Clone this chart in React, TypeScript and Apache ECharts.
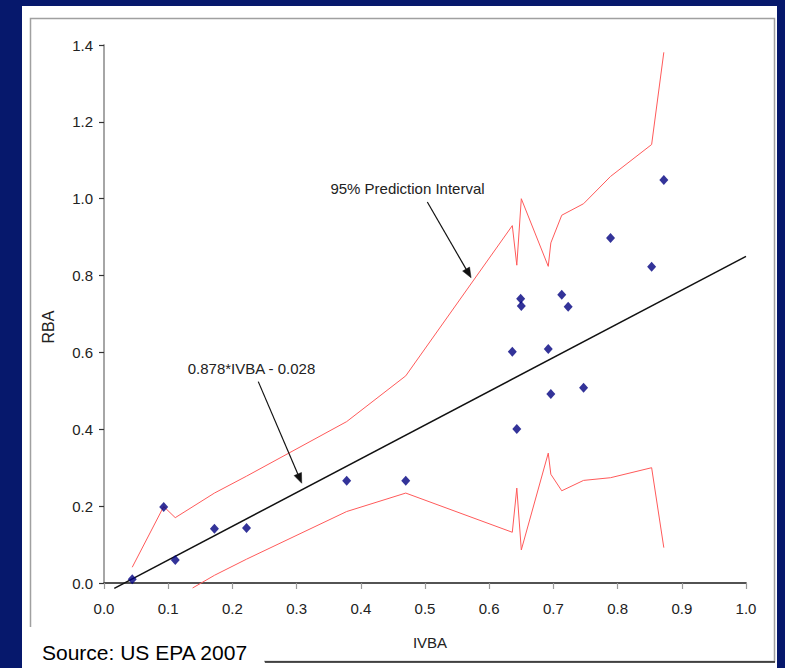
import React, { useEffect, useRef } from "react";
import * as echarts from "echarts";

// Observed data (IVBA vs RBA)
const ivba = [0.044, 0.093, 0.111, 0.172, 0.222, 0.378, 0.47, 0.636, 0.643, 0.649, 0.65, 0.692, 0.696, 0.713, 0.723, 0.747, 0.789, 0.853, 0.872];
const rba = [0.01, 0.198, 0.06, 0.141, 0.143, 0.266, 0.266, 0.602, 0.401, 0.74, 0.721, 0.609, 0.492, 0.75, 0.719, 0.508, 0.898, 0.823, 1.049];

// 95% prediction interval (upper / lower)
const upperX = [0.044, 0.093, 0.111, 0.172, 0.222, 0.378, 0.47, 0.636, 0.643, 0.65, 0.692, 0.696, 0.713, 0.747, 0.789, 0.853, 0.872];
const upperY = [0.041, 0.199, 0.17, 0.234, 0.278, 0.42, 0.539, 0.93, 0.827, 1.0, 0.824, 0.885, 0.957, 0.987, 1.058, 1.141, 1.381];
const lowerX = [0.138, 0.172, 0.222, 0.378, 0.47, 0.636, 0.643, 0.65, 0.692, 0.696, 0.713, 0.747, 0.789, 0.853, 0.872];
const lowerY = [-0.013, 0.02, 0.062, 0.186, 0.234, 0.132, 0.247, 0.086, 0.338, 0.283, 0.24, 0.267, 0.274, 0.3, 0.092];

// Regression line RBA = 0.878*IVBA - 0.028
const slope = 0.878;
const intercept = -0.028;
const fitX = [0.016, 1.0];

// Axis ticks
const xTicks = { min: 0, max: 1, interval: 0.1 };
const yTicks = { min: 0, max: 1.4, interval: 0.2 };

// Annotation arrows (data coordinates: start -> tip)
const arrowFit = [[0.2403, 0.524], [0.308, 0.2596]];
const arrowPI = [[0.5036, 0.9914], [0.5718, 0.7943]];

const labelFont = "Arial, 'Liberation Sans', sans-serif";

export default function App() {
  const ref = useRef<HTMLDivElement>(null);

  useEffect(() => {
    if (!ref.current) return;
    const chart = echarts.init(ref.current, undefined, { renderer: "svg" });

    const pairs = (xs: number[], ys: number[]) => xs.map((x, i) => [x, ys[i]]);
    const fitData = fitX.map((x) => [x, slope * x + intercept]);

    const option: any = {
      animation: false,
      backgroundColor: "#06186c",
      grid: { left: 104, top: 45, width: 642, height: 538, show: false },
      xAxis: [
        {
          type: "value",
          min: xTicks.min,
          max: xTicks.max,
          interval: xTicks.interval,
          axisLine: { show: true, lineStyle: { color: "#9a9a9a", width: 1.5 } },
          axisTick: { show: true, inside: false, length: 6, lineStyle: { color: "#9a9a9a", width: 1.2 } },
          axisLabel: {
            margin: 18,
            color: "#222",
            fontFamily: labelFont,
            fontSize: 15,
            formatter: (v: number) => v.toFixed(1),
          },
          splitLine: { show: false },
        },
        {
          type: "value",
          position: "top",
          min: xTicks.min,
          max: xTicks.max,
          axisLine: { show: true, lineStyle: { color: "#333", width: 1.5 } },
          axisTick: { show: false },
          axisLabel: { show: false },
          splitLine: { show: false },
        },
      ],
      yAxis: [
        {
          type: "value",
          min: yTicks.min,
          max: yTicks.max,
          interval: yTicks.interval,
          axisLine: { show: true, lineStyle: { color: "#a0a0a0", width: 1.5 } },
          axisTick: { show: true, inside: false, length: 5, lineStyle: { color: "#333", width: 1.2 } },
          axisLabel: {
            margin: 11,
            color: "#222",
            fontFamily: labelFont,
            fontSize: 15,
            formatter: (v: number) => v.toFixed(1),
          },
          splitLine: { show: false },
        },
        {
          type: "value",
          position: "right",
          min: yTicks.min,
          max: yTicks.max,
          axisLine: { show: true, lineStyle: { color: "#a0a0a0", width: 1.5 } },
          axisTick: { show: false },
          axisLabel: { show: false },
          splitLine: { show: false },
        },
      ],
      series: [
        {
          name: "Upper PI",
          type: "line",
          data: pairs(upperX, upperY),
          showSymbol: false,
          symbol: "none",
          clip: false,
          lineStyle: { color: "#ff5a5a", width: 1 },
          z: 3,
        },
        {
          name: "Lower PI",
          type: "line",
          data: pairs(lowerX, lowerY),
          showSymbol: false,
          symbol: "none",
          clip: false,
          lineStyle: { color: "#ff5a5a", width: 1 },
          z: 3,
        },
        {
          name: "Fit",
          type: "line",
          data: fitData,
          showSymbol: false,
          symbol: "none",
          clip: false,
          lineStyle: { color: "#111", width: 1.5 },
          z: 4,
        },
        {
          name: "Data",
          type: "scatter",
          data: pairs(ivba, rba),
          symbol: "diamond",
          symbolSize: [9, 10],
          itemStyle: { color: "#000080" },
          z: 5,
        },
      ],
    };

    chart.setOption(option);

    const textStyle = (text: string, font: string, align: string) => ({
      text,
      fill: "#222",
      font,
      align,
      verticalAlign: "middle",
      textAlign: align,
      textVerticalAlign: "middle",
    });

    const arrowGraphics = (arrow: number[][]) => {
      const p0 = chart.convertToPixel({ gridIndex: 0 }, arrow[0]) as number[];
      const p1 = chart.convertToPixel({ gridIndex: 0 }, arrow[1]) as number[];
      const dx = p1[0] - p0[0];
      const dy = p1[1] - p0[1];
      const len = Math.hypot(dx, dy);
      const ux = dx / len;
      const uy = dy / len;
      const headLen = 10;
      const headHalf = 4;
      const bx = p1[0] - ux * headLen;
      const by = p1[1] - uy * headLen;
      return [
        {
          type: "line",
          z: 20,
          silent: true,
          shape: { x1: p0[0], y1: p0[1], x2: bx, y2: by },
          style: { stroke: "#111", lineWidth: 1.2 },
        },
        {
          type: "polygon",
          z: 20,
          silent: true,
          shape: {
            points: [
              [p1[0], p1[1]],
              [bx - uy * headHalf, by + ux * headHalf],
              [bx + uy * headHalf, by - ux * headHalf],
            ],
          },
          style: { fill: "#111", stroke: "#111", lineWidth: 0.5 },
        },
      ];
    };

    chart.setOption({
      graphic: [
        {
          type: "rect",
          z: -10,
          silent: true,
          shape: { x: 22, y: 6, width: 755, height: 662 },
          style: { fill: "#ffffff" },
        },
        {
          type: "rect",
          z: -9,
          silent: true,
          shape: { x: 30.5, y: 18.5, width: 744, height: 643 },
          style: { fill: "none", stroke: "#a0a0a0", lineWidth: 1.5 },
        },
        {
          type: "line",
          z: 10,
          silent: true,
          shape: { x1: 265, y1: 662, x2: 775, y2: 662 },
          style: { stroke: "#222", lineWidth: 1.5 },
        },
        {
          type: "rect",
          z: 11,
          silent: true,
          shape: { x: 22, y: 627, width: 242, height: 41 },
          style: { fill: "#ffffff" },
        },
        {
          type: "text",
          z: 12,
          silent: true,
          x: 42,
          y: 652,
          style: { ...textStyle("Source: US EPA 2007", "21px Arial, 'Liberation Sans', sans-serif", "left"), fill: "#000" },
        },
        {
          type: "text",
          z: 12,
          silent: true,
          x: 430,
          y: 642,
          style: textStyle("IVBA", "15px Arial, 'Liberation Sans', sans-serif", "center"),
        },
        {
          type: "text",
          z: 12,
          silent: true,
          x: 48,
          y: 327,
          rotation: Math.PI / 2,
          style: textStyle("RBA", "16px Arial, 'Liberation Sans', sans-serif", "center"),
        },
        {
          type: "text",
          z: 12,
          silent: true,
          x: 251.5,
          y: 368,
          style: textStyle("0.878*IVBA - 0.028", "15px Arial, 'Liberation Sans', sans-serif", "center"),
        },
        {
          type: "text",
          z: 12,
          silent: true,
          x: 407.5,
          y: 188.5,
          style: textStyle("95% Prediction Interval", "15px Arial, 'Liberation Sans', sans-serif", "center"),
        },
        ...arrowGraphics(arrowFit),
        ...arrowGraphics(arrowPI),
      ],
    });

    return () => chart.dispose();
  }, []);

  return (
    <div
      ref={ref}
      style={{ position: "fixed", left: 0, top: 0, width: 785, height: 668 }}
    />
  );
}
